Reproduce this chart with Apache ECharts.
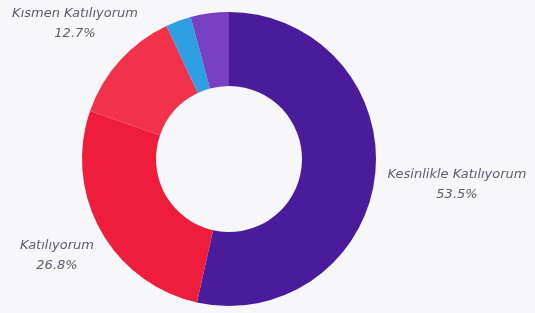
<!DOCTYPE html>
<html>
<head>
	<meta charset="utf-8">
	<title>Katılım dağılımı</title>
	<script type="text/javascript" src="https://cdn.jsdelivr.net/npm/echarts@6/dist/echarts.min.js"></script>
	<style>
		html, body { margin: 0; padding: 0; background: #f7f6f8; }
	</style>
</head>

<body>
	<div style="height: 313px; width: 535px" id="chart"></div>

	<script type="text/javascript">
		var names = ['Kesinlikle Katılıyorum', 'Katılıyorum', 'Kısmen Katılıyorum', 'Katılmıyorum', 'Kesinlikle Katılmıyorum']
		var values = [53.5, 26.8, 12.7, 2.8, 4.2]
		var colors = ['#4a1c9c', '#ee1d3b', '#f0334b', '#2e9fe3', '#7840c2']
		var showLabel = [true, true, true, false, false]

		// label centre points (px) for the three labelled slices
		var labelPos = {0: [457, 185], 1: [57, 256], 2: [75, 24]}

		function get_data(){
			var lst = []
			for (var i = 0; i < names.length; i++){
				lst.push({
					name: names[i],
					value: values[i],
					itemStyle: {color: colors[i]},
					label: {show: showLabel[i]}
				})
			}
			return lst
		}

		var chart = echarts.init(document.getElementById('chart'));
		var option = {
			backgroundColor: '#f7f6f8',
			series: [
				{
					type: 'pie',
					center: [229, 159],
					radius: [73, 147],
					startAngle: 90,
					clockwise: true,
					silent: true,
					data: get_data(),
					label: {
						position: 'outside',
						formatter: function (p) { return p.name + '\n' + p.value.toFixed(1) + '%' },
						color: '#5f5c70',
						fontFamily: 'DejaVu Sans',
						fontStyle: 'italic',
						fontSize: 13,
						lineHeight: 20,
						overflow: 'none',
						width: 200,
						align: 'center'
					},
					labelLine: {show: false},
					labelLayout: function (params) {
						var p = labelPos[params.dataIndex]
						if (!p) return {}
						return {
							x: p[0],
							y: p[1],
							align: 'center',
							verticalAlign: 'middle'
						}
					}
				}
			]
		};
		chart.setOption(option);
	</script>
</body>
</html>
